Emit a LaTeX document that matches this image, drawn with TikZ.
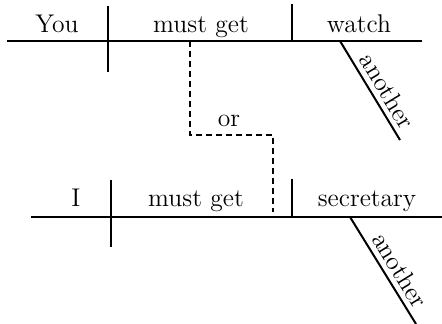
\documentclass[tikz,border=0pt]{standalone}
\usepackage{tikz}
\usetikzlibrary{positioning}

\begin{document}
\begin{tikzpicture}[x=0.5pt, y=-0.5pt,
    word/.style={anchor=base, font=\fontsize{12.8}{15}\selectfont, inner sep=0pt},
    rule/.style={line width=1pt},
    orline/.style={line width=1pt, dash pattern=on 3pt off 2pt},
    tilt/.style={font=\fontsize{12.8}{15}\selectfont, sloped, above, inner sep=2.5pt},
]
    \useasboundingbox (0,0) rectangle (442,324);

    % first clause: You must get watch
    \coordinate (topL) at (7,41);
    \coordinate (topR) at (422,41);
    \coordinate (subjT) at (108,6);
    \coordinate (subjB) at (108,72);
    \coordinate (objT) at (292,4);
    \coordinate (objB) at (292,41);
    \coordinate (modA) at (340,41);
    \coordinate (modB) at (400,140);
    \draw[rule] (topL) -- (topR);
    \draw[rule] (subjT) -- (subjB);
    \draw[rule] (objT) -- (objB);
    \draw[rule] (modA) -- node[tilt, pos=0.58] (another1) {another} (modB);
    \node[word] (you) at (57,33) {You};
    \node[word] (verb1) at (201,33) {must get};
    \node[word] (watch) at (359,33) {watch};

    % second clause: I must get secretary
    \coordinate (botL) at (31,217);
    \coordinate (botR) at (442,217);
    \coordinate (subj2T) at (111,180);
    \coordinate (subj2B) at (111,247);
    \coordinate (obj2T) at (292,179);
    \coordinate (obj2B) at (292,217);
    \coordinate (mod2A) at (350,217);
    \coordinate (mod2B) at (416,324);
    \draw[rule] (botL) -- (botR);
    \draw[rule] (subj2T) -- (subj2B);
    \draw[rule] (obj2T) -- (obj2B);
    \draw[rule] (mod2A) -- node[tilt, pos=0.57] (another2) {another} (mod2B);
    \node[word] (i) at (76,207) {I};
    \node[word] (verb2) at (196,207) {must get};
    \node[word] (secretary) at (367,207) {secretary};

    % the conjunction
    \coordinate (orA) at (190,41);
    \coordinate (orMid) at (190,135);
    \coordinate (orB) at (273,212);
    \draw[orline] (orA) -- (orMid) -| (orB);
    \node[word] (or) at (229,127) {or};
\end{tikzpicture}
\end{document}
